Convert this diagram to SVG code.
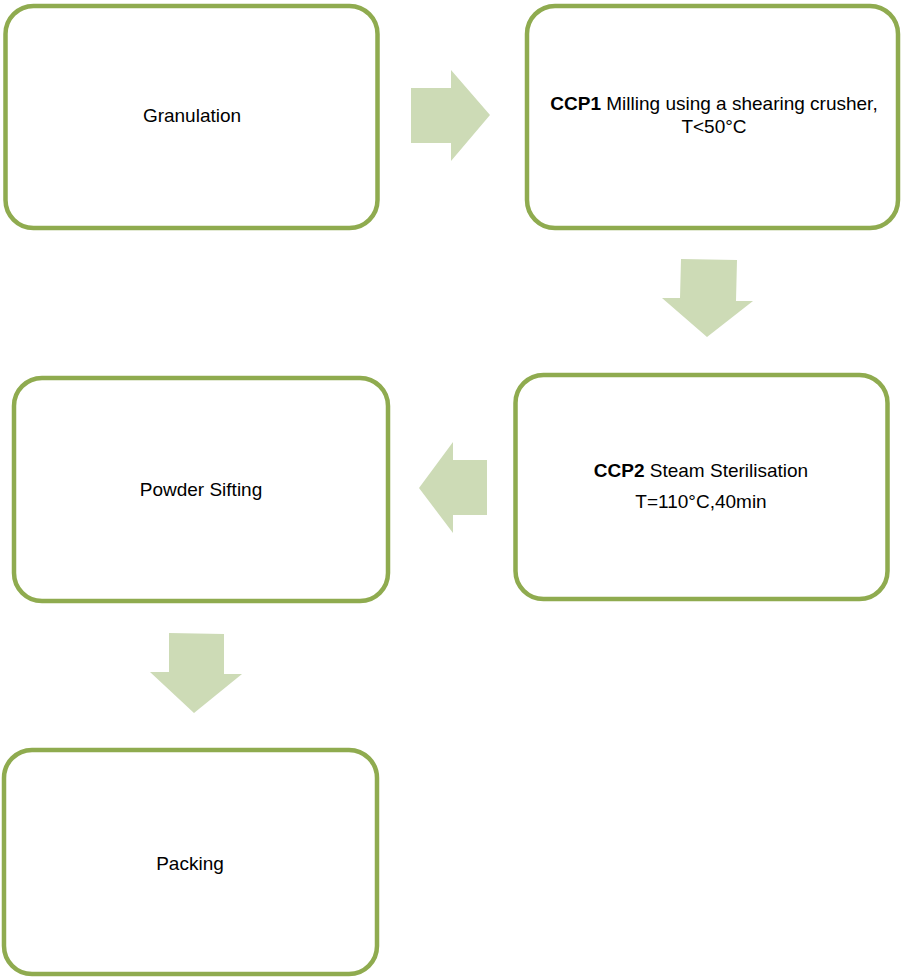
<svg xmlns="http://www.w3.org/2000/svg" width="901" height="978" viewBox="0 0 901 978">
<style>
.box{fill:#ffffff;stroke:#8fab4f;stroke-width:4.5}
.arr{fill:#cddbb6;stroke:none}
text{font-family:"Liberation Sans",Arial,sans-serif;font-size:19px;fill:#000;text-anchor:middle}
.b{font-weight:bold}
</style>
<rect width="901" height="978" fill="#ffffff"/>
<g id="connectors">
<polygon class="arr" points="411,88 451,88 451,70 490,115 451,161 451,143 411,143"/>
<polygon class="arr" points="681,259 737,260 736,301 753,301 707,337 662,298 680,298"/>
<polygon class="arr" points="487,460 453,460 453,442 419,488 453,533 453,515 487,515"/>
<polygon class="arr" points="169,633 224,634 224,674 242,674 194,713 150,672 169,672"/>
</g>
<g id="granulation">
<rect class="box" x="5.5" y="6" width="372" height="222" rx="28"/>
<text x="192" y="122">Granulation</text>
</g>
<g id="ccp1">
<rect class="box" x="527" y="6" width="371" height="222" rx="28"/>
<text x="714" y="110"><tspan class="b">CCP1</tspan> Milling using a shearing crusher,</text>
<text x="714" y="133">T&lt;50°C</text>
</g>
<g id="ccp2">
<rect class="box" x="515.5" y="375" width="372" height="224" rx="28"/>
<text x="701" y="477"><tspan class="b">CCP2</tspan> Steam Sterilisation</text>
<text x="701" y="508">T=110°C,40min</text>
</g>
<g id="sifting">
<rect class="box" x="14" y="378" width="374" height="223" rx="28"/>
<text x="201" y="496">Powder Sifting</text>
</g>
<g id="packing">
<rect class="box" x="4" y="750" width="373" height="224" rx="28"/>
<text x="190" y="870">Packing</text>
</g>
</svg>
